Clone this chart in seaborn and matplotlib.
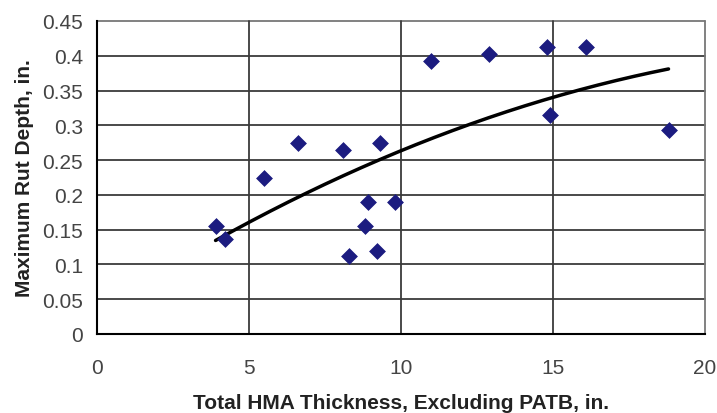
import numpy as np
import pandas as pd
import matplotlib
matplotlib.use("Agg")
import matplotlib.pyplot as plt
import seaborn as sns

# Data
thickness = [3.9, 4.2, 5.5, 6.6, 8.1, 9.3, 8.3, 8.9, 8.8, 9.2, 9.8, 11.0, 12.9, 14.8, 16.1, 14.9, 18.8]
rut_depth = [0.155, 0.137, 0.225, 0.275, 0.265, 0.275, 0.112, 0.19, 0.155, 0.12, 0.19, 0.393, 0.403, 0.412, 0.412, 0.315, 0.294]
# quadratic trendline coefficients (c2, c1, c0)
trend_coef = [-0.000523, 0.02842, 0.0316]
x_ticks = [0, 5, 10, 15, 20]
y_ticks = [0, 0.05, 0.1, 0.15, 0.2, 0.25, 0.3, 0.35, 0.4, 0.45]
y_tick_labels = ["0", "0.05", "0.1", "0.15", "0.2", "0.25", "0.3", "0.35", "0.4", "0.45"]

sns.set_theme(style="white")
plt.rcParams['font.family'] = ['Liberation Sans', 'DejaVu Sans']

df = pd.DataFrame({"x": thickness, "y": rut_depth})
xt = np.linspace(min(thickness), max(thickness), 200)
trend = pd.DataFrame({"x": xt, "y": np.polyval(trend_coef, xt)})

fig = plt.figure(figsize=(7.17, 4.14), dpi=100)
ax = fig.add_axes([97/717, 1-335/414, (705-97)/717, (335-22)/414])

grid_c = "#3a3a3a"
for v in y_ticks[1:]:
    ax.axhline(v, color=grid_c if v < 0.45 else "#777777", lw=1.3, zorder=1, clip_on=False)
for v in x_ticks[1:]:
    ax.axvline(v, color=grid_c if v < 20 else "#777777", lw=1.3, zorder=1, clip_on=False)

sns.lineplot(data=trend, x="x", y="y", ax=ax, color="black", lw=2.5, zorder=3)
sns.scatterplot(data=df, x="x", y="y", ax=ax, marker="D", s=65, color="#1c1c80",
                edgecolor="#1c1c80", linewidth=0.5, zorder=4)

ax.set_xlim(0, 20)
ax.set_ylim(0, 0.45)
ax.set_xticks(x_ticks)
ax.set_xticklabels([str(v) for v in x_ticks])
ax.set_yticks(y_ticks)
ax.set_yticklabels(y_tick_labels)

for s in ["top", "right"]:
    ax.spines[s].set_visible(False)
for s in ["left", "bottom"]:
    ax.spines[s].set_color("black")
    ax.spines[s].set_linewidth(1.5)

ax.tick_params(axis="both", which="major", direction="out", length=4, width=1.2,
               color="black", labelsize=15, labelcolor="#444444")
ax.tick_params(axis="x", pad=13)
ax.tick_params(axis="y", pad=6)

ax.set_xlabel("Total HMA Thickness, Excluding PATB, in.", fontsize=15, fontweight="bold",
              color="#222222", labelpad=11.5)
ax.set_ylabel("Maximum Rut Depth, in.", fontsize=15, fontweight="bold",
              color="#222222", labelpad=6)

fig.savefig("out.png", dpi=100, facecolor="white")
